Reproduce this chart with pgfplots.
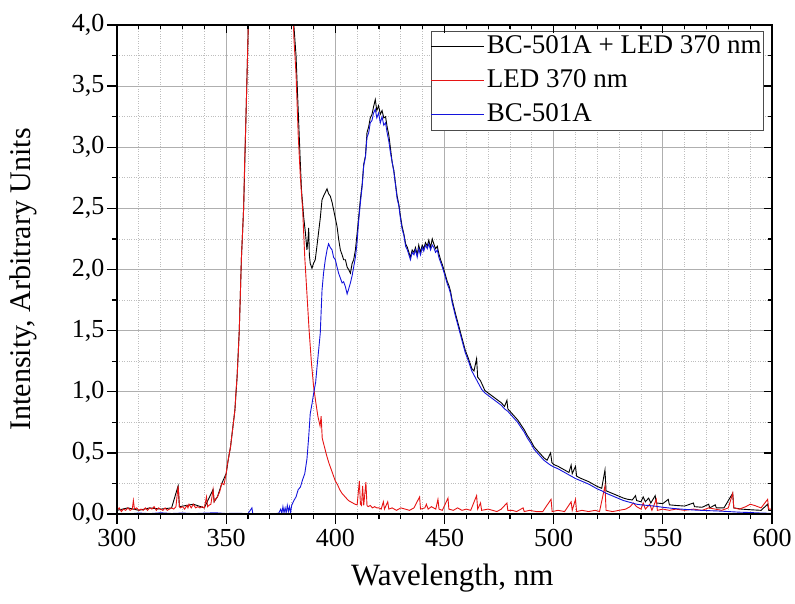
\documentclass[border=0pt]{standalone}
\usepackage{fontspec}
\setmainfont{Liberation Serif}
\usepackage{pgfplots}
\usepackage{pgfplotstable}
\pgfplotsset{compat=1.18}

\pgfplotstableread{
x y
300 0.03
301 0.05
302 0.02
303 0.04
304 0.03
305 0.05
306 0.03
307 0.04
307.5 0.11
308 0.04
309 0.05
310 0.03
311 0.04
312 0.03
313 0.05
314 0.03
315 0.05
316 0.04
317 0.06
318 0.03
319 0.05
320 0.04
321 0.03
322 0.05
323 0.03
324 0.04
325 0.05
326 0.04
327 0.06
328 0.23
328.6 0.06
329 0.05
330 0.06
331 0.04
332 0.07
332.5 0.05
333 0.08
334 0.05
335 0.08
336 0.05
337 0.06
338 0.05
339 0.06
340 0.05
341 0.14
341.5 0.06
342 0.07
343 0.08
344 0.2
344.5 0.1
345 0.12
346 0.14
347 0.18
348 0.25
349 0.24
350 0.33
350.5 0.40
351 0.45
352 0.55
353 0.7
354 0.85
354.5 1.0
355 1.12
355.5 1.3
356 1.5
356.5 1.8
357 2.1
357.5 2.3
358 2.5
358.5 2.9
359 3.2
359.5 3.55
360 3.9
360.5 4.4
362 6
365 9
370 11
375 9
378 6.5
380 4.6
381 3.9
382 3.6
383 3.1
384 2.75
385 2.5
386 2.1
387 1.8
388 1.5
389 1.25
390 1.05
391 0.92
392 0.8
393 0.72
393.5 0.8
394 0.62
395 0.55
396 0.48
397 0.42
398 0.37
399 0.32
400 0.27
401 0.24
402 0.2
403 0.17
404 0.15
405 0.13
406 0.11
407 0.1
408 0.09
409 0.08
410 0.075
411 0.27
411.5 0.08
412 0.07
412.5 0.23
413 0.07
414 0.26
414.5 0.07
415 0.06
416 0.07
417 0.05
418 0.06
419 0.05
420 0.05
421 0.04
422 0.1
422.5 0.04
424 0.1
424.5 0.04
426 0.05
428 0.03
430 0.05
432 0.04
434 0.03
436 0.05
438.6 0.14
439 0.04
441 0.05
441.7 0.08
442.5 0.04
444 0.06
446 0.04
447 0.12
447.5 0.04
449 0.03
451.6 0.13
452 0.04
454 0.03
456 0.05
458 0.03
460 0.04
462 0.03
464.7 0.15
465.2 0.04
466.5 0.09
467 0.03
470 0.04
472 0.03
474 0.02
476 0.04
478.6 0.09
479 0.03
481 0.03
483 0.02
486 0.05
486.5 0.02
489 0.03
492 0.02
495 0.02
498.8 0.12
499.3 0.02
502 0.03
505 0.02
508 0.1
508.5 0.03
510 0.12
510.5 0.02
513 0.03
516 0.02
519 0.03
521 0.02
523.5 0.23
524 0.03
527 0.02
530 0.03
533 0.04
535 0.06
536.5 0.09
538 0.06
540 0.04
541 0.09
542 0.04
544 0.08
545 0.03
547 0.12
547.5 0.03
550 0.04
553 0.03
556 0.04
560 0.03
564 0.04
568 0.03
571 0.05
574 0.04
577 0.03
580 0.05
582 0.17
582.5 0.05
585 0.04
588 0.06
590 0.08
592 0.07
595 0.05
598 0.12
598.5 0.04
600 0.04
}\ledtable

\pgfplotstableread{
x y
300 0.005
305 0.0
310 0.008
315 0.003
320 0.01
325 0.004
330 0.008
335 0.003
340 0.007
345 0.01
350 0.004
355 0.006
360 0.003
361.8 0.05
362.2 0.003
365 0.002
370 0.003
374 0.005
375 0.04
375.5 0.005
376 0.06
376.5 0.01
377 0.05
377.5 0.01
378 0.07
378.5 0.02
379 0.06
379.5 0.01
380 0.07
381 0.11
382 0.14
383 0.2
384 0.22
385 0.28
386 0.33
387 0.45
387.8 0.63
388.5 0.82
389.3 0.9
390.1 0.99
391 1.08
391.6 1.2
392.3 1.33
393.1 1.48
393.9 1.83
394.6 1.97
395.4 2.08
396.2 2.16
396.9 2.21
397.7 2.18
398.5 2.16
399.2 2.10
400 2.08
400.8 2.02
401.5 1.97
402.3 1.93
403.1 1.89
403.8 1.9
404.6 1.86
405.4 1.80
406.1 1.84
406.9 1.89
407.7 1.95
408.4 2.02
409.2 2.1
409.9 2.21
410.7 2.4
411.5 2.55
412.3 2.68
413 2.85
413.8 2.92
414.5 3.08
415.3 3.12
416 3.2
416.8 3.22
417.5 3.28
418.3 3.31
419 3.24
419.8 3.28
420.6 3.2
421.4 3.25
422.2 3.18
423 3.2
423.7 3.12
424.5 3.05
425.2 2.96
426 2.88
426.8 2.8
427.5 2.7
428.3 2.58
429.1 2.52
429.8 2.42
430.6 2.33
431.4 2.28
432.2 2.19
433 2.16
433.7 2.12
434.4 2.08
435.2 2.14
436 2.12
436.7 2.16
437.5 2.1
438.2 2.17
439 2.12
439.8 2.18
440.5 2.15
441.3 2.2
442.1 2.17
442.8 2.21
443.6 2.16
444.4 2.2
445.1 2.18
445.9 2.14
446.7 2.16
447.4 2.1
448.2 2.06
449 2.02
449.7 1.98
450.5 1.93
451.3 1.88
452 1.85
452.8 1.8
453.5 1.73
455 1.62
456.5 1.52
458 1.42
459.5 1.32
461 1.25
462.5 1.17
464 1.12
465.5 1.07
467 1.02
468.5 0.99
470 0.97
471.5 0.95
473 0.93
474.5 0.91
476 0.89
477.5 0.86
479 0.84
480.5 0.81
482 0.78
483.5 0.75
485 0.71
486.5 0.67
488 0.62
489.5 0.58
491 0.53
492.5 0.5
494 0.47
495.5 0.44
497 0.42
498.5 0.40
500 0.385
502 0.37
504 0.35
506 0.33
508 0.31
510 0.29
512 0.275
514 0.26
516 0.245
518 0.225
520 0.205
522 0.19
524 0.17
526 0.155
528 0.14
530 0.125
532 0.11
534 0.1
536 0.09
538 0.08
540 0.075
543 0.07
546 0.065
550 0.055
555 0.045
560 0.038
565 0.032
570 0.028
575 0.025
580 0.02
585 0.015
590 0.012
595 0.008
600 0.005
}\bctable

\pgfplotstableread{
x y
300 0.03
305 0.05
310 0.03
315 0.05
320 0.04
325 0.05
328 0.23
328.6 0.06
335 0.08
340 0.05
344 0.2
344.5 0.1
346 0.14
348 0.25
350 0.33
351 0.45
352 0.55
353 0.7
354 0.85
355 1.12
356 1.5
357 2.1
358 2.5
359 3.2
360 3.9
360.5 4.4
362 6
365 9
370 11
375 9
378 6.5
380 4.7
381 4.0
382 3.75
383 3.3
383.9 2.9
384.5 2.65
385.5 2.43
386.3 2.3
387 2.16
387.5 2.25
387.8 2.34
388.1 2.12
388.5 2.05
389.3 2.01
390 2.05
390.8 2.08
391.5 2.18
392.3 2.3
393.1 2.42
393.9 2.57
394.6 2.6
395.4 2.63
396.2 2.66
396.9 2.62
397.7 2.6
398.5 2.55
399.2 2.49
400 2.42
400.8 2.35
401.5 2.25
402.3 2.16
403.1 2.12
403.8 2.08
404.6 2.08
405.4 2.02
406.1 2.0
406.9 1.97
407.7 2.05
408.4 2.08
409.2 2.16
410 2.3
410.7 2.43
411.5 2.58
412.3 2.70
413 2.86
413.8 2.93
414.5 3.12
415.3 3.17
416 3.24
416.8 3.27
417.5 3.33
418.3 3.39
419 3.3
419.8 3.34
420.6 3.27
421.4 3.30
422.2 3.24
423 3.25
423.7 3.17
424.5 3.1
425.2 3.0
426 2.88
426.8 2.81
427.5 2.71
428.3 2.6
429.1 2.53
429.8 2.44
430.6 2.35
431.4 2.29
432.2 2.21
433 2.18
433.7 2.14
434.4 2.10
435.2 2.16
436 2.14
436.7 2.18
437.5 2.12
438.2 2.2
439 2.14
439.8 2.2
440.5 2.17
441.3 2.22
442.1 2.19
442.8 2.24
443.6 2.18
444.4 2.25
445.1 2.21
445.9 2.17
446.7 2.19
447.4 2.13
448.2 2.08
449 2.04
449.7 2.0
450.5 1.95
451.3 1.9
452 1.87
452.8 1.82
453.5 1.75
455 1.64
456.5 1.54
458 1.44
459.5 1.34
461 1.27
462.5 1.19
463.5 1.17
464.7 1.27
465.2 1.12
466.5 1.09
468.5 1.01
470 0.99
471.5 0.97
473 0.95
474.5 0.93
476 0.91
477.5 0.88
478.6 0.93
479 0.86
480.5 0.83
482 0.8
483.5 0.77
485 0.73
486.5 0.69
488 0.64
489.5 0.6
491 0.55
492.5 0.52
494 0.49
495.5 0.46
497 0.44
498.6 0.5
499.2 0.42
500 0.405
502 0.39
504 0.37
506 0.35
507 0.34
508 0.4
508.5 0.33
510 0.39
510.5 0.31
512 0.295
514 0.28
516 0.265
518 0.245
520 0.225
522 0.21
523.5 0.36
524 0.19
526 0.175
528 0.16
530 0.145
532 0.13
534 0.12
536 0.115
537.5 0.15
538 0.11
540 0.1
541 0.14
542 0.1
543.5 0.13
544.5 0.09
546.5 0.15
547 0.09
550 0.085
552.5 0.12
553 0.075
556 0.07
560 0.065
564 0.09
564.5 0.06
568 0.055
571 0.08
571.5 0.05
574 0.075
574.5 0.05
578 0.05
582 0.17
582.5 0.05
586 0.04
590 0.035
595 0.03
598 0.08
598.5 0.03
600 0.03
}\sumtable

\definecolor{majgrid}{RGB}{175,175,175}
\definecolor{mingrid}{RGB}{190,190,190}
\definecolor{ledred}{RGB}{230,20,20}
\definecolor{bcblue}{RGB}{20,20,220}

\begin{document}
\begin{tikzpicture}
\begin{axis}[
  at={(0pt,0pt)}, anchor=south west,
  scale only axis, width=655pt, height=489pt,
  xmin=300, xmax=600, ymin=0, ymax=4,
  xtick={300,350,...,600},
  ytick={0,0.5,...,4},
  minor x tick num=4,
  minor y tick num=1,
  xtick pos=left, ytick pos=left,
  tick align=outside,
  major tick length=10pt,
  minor tick length=5pt,
  every tick/.style={black, line width=1.3pt},
  axis line style={black, line width=1.4pt},
  grid=both,
  major grid style={majgrid, line width=0.8pt},
  minor grid style={mingrid, dotted, line width=0.8pt},
  /pgf/number format/assume math mode=true,
  yticklabel style={/pgf/number format/use comma, /pgf/number format/fixed, /pgf/number format/fixed zerofill, /pgf/number format/precision=1, xshift=1pt},
  tick label style={font=\fontsize{26}{31}\selectfont},
  xticklabel style={yshift=-2pt},
  xlabel={Wavelength, nm},
  ylabel={Intensity, Arbitrary Units},
  every axis x label/.style={at={(axis description cs:0.512,-0.1466)}, anchor=base, font=\fontsize{31}{36}\selectfont},
  every axis y label/.style={at={(axis description cs:-0.132,0.48)}, anchor=base, rotate=90, font=\fontsize{30}{36}\selectfont},
  legend style={at={(1,1)}, anchor=north east, xshift=-8pt, yshift=-6pt,
    draw=black!70, line width=0.8pt, fill=white,
    font=\fontsize{27}{33}\selectfont,
    inner xsep=0pt, inner ysep=2pt, row sep=7pt,
    nodes={inner xsep=2pt, inner ysep=0pt, text height=20pt, text depth=7pt},
    cells={anchor=west}},
  legend image code/.code={\draw[#1] plot coordinates {(0pt,0pt) (26pt,0pt) (53pt,0pt)};},
  legend cell align=left,
]
\addplot[black, line width=0.9pt] table[x=x,y=y] {\sumtable};
\addlegendentry{BC-501A + LED 370 nm}
\addplot[ledred, line width=0.9pt] table[x=x,y=y] {\ledtable};
\addlegendentry{LED 370 nm}
\addplot[bcblue, line width=0.9pt] table[x=x,y=y] {\bctable};
\addlegendentry{BC-501A}
\end{axis}
\begin{axis}[
  at={(0pt,0pt)}, anchor=south west,
  scale only axis, width=655pt, height=489pt,
  xmin=300, xmax=600, ymin=0, ymax=4,
  xtick={300,350,...,600},
  ytick={0,0.5,...,4},
  minor x tick num=4,
  minor y tick num=1,
  xtick pos=right, ytick pos=right,
  tick align=inside,
  major tick length=8pt,
  minor tick length=4pt,
  every tick/.style={black, line width=1.3pt},
  axis line style={black, line width=1.4pt},
  xticklabels={}, yticklabels={},
]
\end{axis}
\pgfresetboundingbox
\path[use as bounding box] (-117pt,-89pt) rectangle (678pt,514pt);
\end{tikzpicture}
\end{document}
